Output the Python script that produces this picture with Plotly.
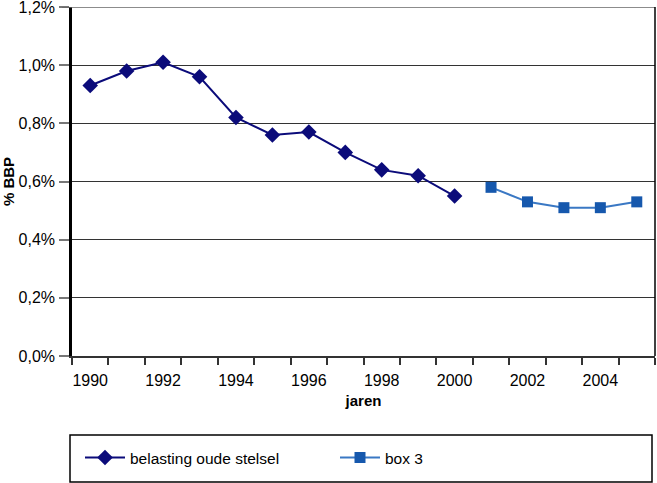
import plotly.graph_objects as go

years_old = [1990, 1991, 1992, 1993, 1994, 1995, 1996, 1997, 1998, 1999, 2000]
belasting_oude_stelsel = [0.93, 0.98, 1.01, 0.96, 0.82, 0.76, 0.77, 0.70, 0.64, 0.62, 0.55]
years_box3 = [2001, 2002, 2003, 2004, 2005]
box3 = [0.58, 0.53, 0.51, 0.51, 0.53]
tick_years = [1990, 1992, 1994, 1996, 1998, 2000, 2002, 2004]
y_ticks = [0.0, 0.2, 0.4, 0.6, 0.8, 1.0, 1.2]
y_max = 1.2

FONT = "Liberation Sans"

fig = go.Figure()
fig.add_trace(go.Scatter(
    x=years_old, y=belasting_oude_stelsel, name="belasting oude stelsel",
    mode="lines+markers",
    line=dict(color="#0b0b7a", width=2),
    marker=dict(symbol="diamond", size=12, color="#0b0b7a"),
))
fig.add_trace(go.Scatter(
    x=years_box3, y=box3, name="box 3",
    mode="lines+markers",
    line=dict(color="#3a78c4", width=2),
    marker=dict(symbol="square", size=11, color="#1658ad"),
))

fig.update_layout(
    width=657, height=483,
    margin=dict(l=72, r=2, t=7, b=127),
    paper_bgcolor="white", plot_bgcolor="white",
    font=dict(family=FONT, size=15, color="black"),
    showlegend=True,
    legend=dict(
        orientation="h", x=8 / 583, y=-0.292, xanchor="left", yanchor="middle",
        xref="paper", yref="paper",
        entrywidth=200, entrywidthmode="pixels",
        itemwidth=40,
        font=dict(family=FONT, size=15.5, color="black"),
        bgcolor="rgba(0,0,0,0)",
    ),
    xaxis=dict(
        range=[1989.5, 2005.5],
        automargin=False,
        tickmode="array", tickvals=tick_years, ticktext=[str(y) for y in tick_years],
        ticks="", showgrid=False, zeroline=False,
        showline=True, linecolor="#333333", linewidth=1.5,
        tickfont=dict(family=FONT, size=16),
        ticklabelstandoff=9,
        minor=dict(ticks="outside", tickmode="linear", tick0=1989.5, dtick=1,
                   ticklen=7, tickcolor="#333333", tickwidth=1.5, showgrid=False),
        title=dict(text="<b>jaren</b>", font=dict(family=FONT, size=15), standoff=8),
    ),
    yaxis=dict(
        range=[0, y_max],
        automargin=False,
        tickmode="array", tickvals=y_ticks,
        ticktext=[f"{v:.1f}".replace(".", ",") + "%" for v in y_ticks],
        ticklabeloverflow="allow",
        ticks="outside", ticklen=10, tickcolor="#777777", tickwidth=1.5,
        showgrid=True, gridcolor="#333333", gridwidth=1,
        zeroline=False,
        showline=True, linecolor="black", linewidth=2.5,
        tickfont=dict(family=FONT, size=16),
        ticklabelstandoff=1,
        title=dict(text="<b>% BBP</b>", font=dict(family=FONT, size=15), standoff=4),
    ),
    shapes=[
        dict(type="line", xref="paper", yref="y", x0=-10 / 583, x1=1, y0=y_max, y1=y_max,
             line=dict(color="#666666", width=1.5)),
        dict(type="line", xref="paper", yref="paper", x0=1, x1=1, y0=0, y1=1,
             line=dict(color="black", width=1.5)),
        dict(type="rect", xref="paper", yref="paper",
             x0=(70 - 72) / 583, x1=(652 - 72) / 583,
             y0=(356 - 482) / 349, y1=(356 - 435) / 349,
             line=dict(color="black", width=1.5), fillcolor="rgba(0,0,0,0)"),
    ],
)

fig.write_html("out.html")
